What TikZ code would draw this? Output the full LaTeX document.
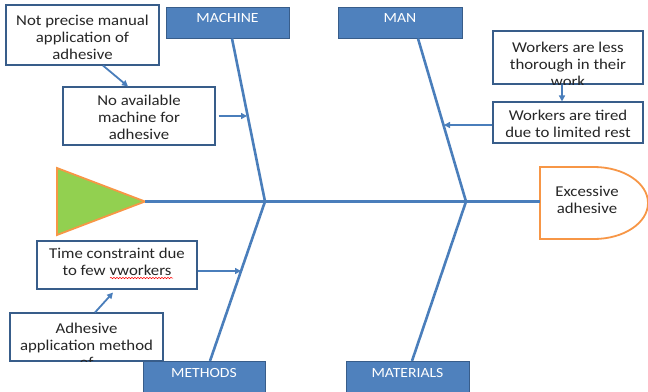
\documentclass[tikz,border=0pt]{standalone}
\usepackage{fontspec}
\setmainfont{Carlito}[FakeStretch=1.12]
\usetikzlibrary{arrows.meta,decorations.pathmorphing}
\definecolor{bone}{HTML}{4A7EBB}
\definecolor{hfill}{HTML}{4F81BD}
\definecolor{hline}{HTML}{385D8A}
\definecolor{tri}{HTML}{92D050}
\definecolor{orng}{HTML}{F79646}
\tikzset{
  hdr/.style={draw=hline,fill=hfill,line width=1pt,inner sep=0pt,minimum width=#1,minimum height=31pt},
  hdrtxt/.style={text=white,inner sep=0pt,font=\fontsize{14}{16}\selectfont},
  tbox/.style={draw=hline,fill=white,line width=1.1pt,inner sep=0pt},
  btxt/.style={inner sep=0pt,align=center,text=black!85,font=\fontsize{15}{17}\selectfont},
  bonel/.style={draw=bone,line width=2.6pt},
  arr/.style={draw=bone,line width=1.8pt,-{Triangle[length=6pt,width=6pt]}},
}
\begin{document}
\begin{tikzpicture}[x=1pt,y=-1pt]
\useasboundingbox (0,0) rectangle (648,391);
% header boxes
\node[hdr=123pt] (machine) at (227.5,22.5) {};
\node[hdrtxt] (machinet) at (227.5,18) {MACHINE};
\node[hdr=124pt] (man) at (400,22.5) {};
\node[hdrtxt] (mant) at (400,18) {MAN};
% joints
\coordinate (jl) at (265,201.5);
\coordinate (jr) at (466,201.5);
% triangle (head of arrow)
\coordinate (t1) at (57,168);
\coordinate (t2) at (57,235);
\coordinate (tip) at (145,201.5);
\filldraw[fill=tri,draw=orng,line width=1.8pt,line join=miter] (t1) -- (tip) -- (t2) -- cycle;
% effect box
\coordinate (e1) at (540,167);
\coordinate (e2) at (540,239);
\filldraw[fill=white,draw=orng,line width=1.8pt] (e1) -- (594,167) .. controls (623.8,167) and (648,183.1) .. (648,203) .. controls (648,222.9) and (623.8,239) .. (594,239) -- (e2) -- cycle;
\coordinate (ew) at (540,201.5);
\node[btxt] (exc) at (587,200) {Excessive\\adhesive};
% spine
\draw[bonel] (tip) -- (ew);
% bones
\draw[bonel] ([xshift=4.5pt]machine.south) -- (jl);
\draw[bonel] ([xshift=18pt]man.south) -- (jr);
\draw[bonel] (jl) -- (210,361) coordinate (mtop);
\draw[bonel] (jr) -- (412,361) coordinate (matop);
% machine side boxes
\node[tbox,minimum width=153pt,minimum height=60pt] (npm) at (82.5,35) {};
\node[btxt] (npmt) at (82.5,37) {Not precise manual\\application of\\adhesive};
\node[tbox,minimum width=152pt,minimum height=58pt] (nam) at (139,116) {};
\node[btxt] (namt) at (139,117) {No available\\machine for\\adhesive};
\coordinate (mb) at (247,116);
\draw[arr] ([xshift=20.5pt]npm.south) -- ([xshift=-11pt]nam.north);
\draw[arr] ([xshift=3pt]nam.east) -- (mb);
% man side boxes
\node[tbox,minimum width=150pt,minimum height=53pt] (wless) at (568,57.5) {};
\begin{scope}
\clip (wless.south west) rectangle (wless.north east);
\node[btxt] (wlesst) at (568,64) {Workers are less\\thorough in their\\work};
\end{scope}
\node[tbox,minimum width=150pt,minimum height=41pt] (wtired) at (568,122.5) {};
\node[btxt] (wtiredt) at (568,123.5) {Workers are tired\\due to limited rest};
\coordinate (manb) at (444,125);
\draw[arr] ([xshift=-6pt]wless.south) -- ([xshift=-6pt]wtired.north);
\draw[arr] ([yshift=-2.5pt]wtired.west) -- (manb);
% methods side boxes
\node[tbox,minimum width=160pt,minimum height=48pt] (tc) at (117,265) {};
\node[btxt] (tct) at (117,261.5) {Time constraint due\\to few vworkers};
\draw[red,line width=0.5pt,decorate,decoration={snake,amplitude=0.7pt,segment length=3pt}] (110,278) -- (173,278);
\coordinate (tcb) at (241,271);
\draw[arr] ([yshift=-6pt]tc.east) -- (tcb);
\node[tbox,minimum width=153pt,minimum height=48pt] (adh) at (86.5,337) {};
\begin{scope}
\clip (adh.south west) rectangle (adh.north east);
\node[btxt] (adht) at (86.5,345) {Adhesive\\application method\\of};
\end{scope}
\draw[arr] ([xshift=8.5pt]adh.north) -- ([xshift=-4pt,yshift=-3pt]tc.south);
% bottom header boxes
\node[hdr=122pt] (methods) at (204,376.5) {};
\node[hdrtxt] (methodst) at (204,373) {METHODS};
\node[hdr=123pt] (materials) at (407.5,376.5) {};
\node[hdrtxt] (materialst) at (407.5,373) {MATERIALS};
\end{tikzpicture}
\end{document}
